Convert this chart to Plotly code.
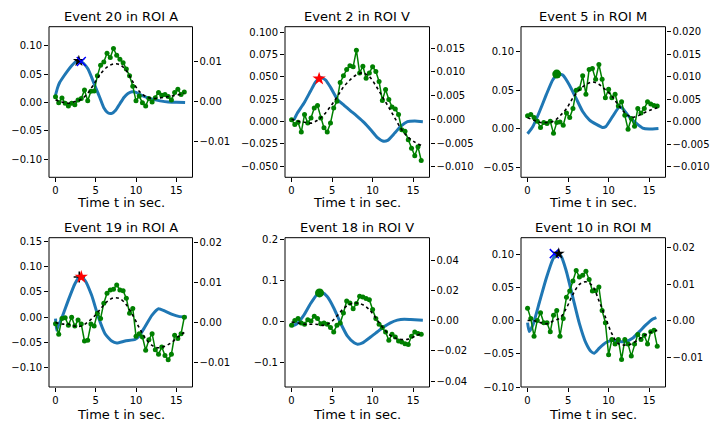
import plotly.graph_objects as go

# ---------------- data ----------------
titles = ["Event 20 in ROI A", "Event 2 in ROI V", "Event 5 in ROI M",
          "Event 19 in ROI A", "Event 18 in ROI V", "Event 10 in ROI M"]

# sample times of the green (measured) series and the dotted fit
t_green = [0.0, 0.4, 0.8, 1.2, 1.6, 2.0, 2.4, 2.8, 3.2, 3.6, 4.0, 4.4, 4.8, 5.2,
           5.6, 6.0, 6.4, 6.8, 7.2, 7.6, 8.0, 8.4, 8.8, 9.2, 9.6, 10.0, 10.4,
           10.8, 11.2, 11.6, 12.0, 12.4, 12.8, 13.2, 13.6, 14.0, 14.4, 14.8,
           15.2, 15.6, 16.0]
t_fit = [0.0, 0.8, 1.6, 2.4, 3.2, 4.0, 4.8, 5.6, 6.4, 7.2, 8.0, 8.8, 9.6, 10.4,
         11.2, 12.0, 12.8, 13.6, 14.4, 15.2, 16.0]

# blue curves (left axis)
blue_t_1 = [0, 0.25, 0.5, 1, 1.5, 2, 2.5, 3, 3.5, 4, 4.5, 5, 5.5, 6, 6.5, 7, 7.5,
            8, 8.5, 9, 9.5, 10, 10.5, 11, 12, 13, 14, 15, 16.1]
blue_y_1 = [0.013, 0.026, 0.035, 0.046, 0.056, 0.065, 0.072, 0.074, 0.069, 0.060,
            0.044, 0.026, 0.009, -0.009, -0.018, -0.019, -0.013, -0.002, 0.009,
            0.016, 0.019, 0.018, 0.014, 0.011, 0.006, 0.003, 0.001, 0.0006, 0.0]
blue_t_2 = [0.3, 0.7, 1.52, 2.35, 2.97, 3.59, 4.21, 4.83, 5.66, 6.48, 7.31, 8.14,
            8.96, 9.79, 10.6, 11.24, 11.86, 12.7, 13.5, 14.3, 15.2, 16.2]
blue_y_2 = [0.0019, 0.0093, 0.0205, 0.0343, 0.0444, 0.0493, 0.0466, 0.0381, 0.025,
            0.0183, 0.0119, 0.0056, -0.0011, -0.0093, -0.0179, -0.0216, -0.0209,
            -0.0131, -0.0049, 0.0, 0.0007, 0.0]
blue_t_3 = [0, 0.66, 1.48, 2.3, 3.1, 3.73, 4.34, 5.16, 5.98, 6.8, 7.62, 8.44, 9.26,
            9.67, 10.5, 11.3, 11.7, 12.5, 13.4, 14.2, 15.0, 16.15]
blue_y_3 = [-0.0065, 0.003, 0.0224, 0.044, 0.0634, 0.0711, 0.0698, 0.0569, 0.0397,
            0.0224, 0.0116, 0.006, 0.0017, 0.003, 0.016, 0.028, 0.0267, 0.016,
            0.0073, 0.0009, -0.0004, 0.0004]
blue_t_4 = [0, 0.13, 0.34, 0.75, 1.58, 2.41, 3.04, 3.66, 4.49, 5.32, 6.15, 6.98,
            7.61, 8.64, 9.89, 10.3, 11.1, 11.97, 12.8, 13.6, 14.5, 15.3, 16.3]
blue_y_4 = [-0.0033, -0.026, -0.017, -0.0033, 0.0329, 0.0658, 0.0803, 0.0724,
            0.0428, 0.0, -0.0329, -0.0474, -0.0513, -0.0474, -0.0441, -0.0395,
            -0.0197, 0.0033, 0.0164, 0.0118, 0.0053, 0.0013, 0.0]
blue_t_5 = [0, 0.7, 1.52, 2.35, 3.18, 3.8, 4.42, 5.24, 6.07, 6.9, 7.72, 8.14, 8.76,
            9.79, 10.6, 11.4, 12.2, 13.05, 13.9, 14.7, 16.2]
blue_y_5 = [-0.0122, -0.0057, 0.0147, 0.0432, 0.066, 0.0693, 0.0595, 0.031,
            -0.0057, -0.0367, -0.053, -0.0562, -0.053, -0.0383, -0.026, -0.0139,
            -0.0041, 0.0024, 0.0049, 0.0041, 0.0024]
blue_t_6 = [0, 0.2, 0.66, 1.48, 2.3, 3.1, 3.6, 4.14, 4.75, 5.57, 6.39, 7.21, 7.83,
            8.24, 8.85, 9.67, 10.5, 11.3, 12.1, 12.95, 13.8, 14.6, 15.4, 15.9]
blue_y_6 = [-0.003, -0.0165, -0.0065, 0.0285, 0.0635, 0.092, 0.101, 0.097, 0.076,
            0.036, -0.004, -0.034, -0.0465, -0.049, -0.0415, -0.033, -0.030,
            -0.0315, -0.0315, -0.0265, -0.0165, -0.0065, 0.002, 0.0045]

# green measured series (right axis)
green_1 = [0.0012, -0.0003, 0.0009, -0.0004, -0.0011, -0.0004, -0.0008, 0.0004,
           0.0008, 0.0029, 0.0002, 0.0026, 0.0027, 0.0065, 0.0092, 0.0100, 0.0122,
           0.0111, 0.0134, 0.0117, 0.0107, 0.0098, 0.0082, 0.0065, 0.0039, 0.0002,
           0.0014, -0.0003, -0.0011, 0.0008, -0.0001, 0.0010, 0.0023, 0.0016,
           0.0018, 0.0013, 0.0004, 0.0023, 0.0031, 0.0018, 0.0024]
green_2 = [-0.0001, -0.0011, -0.0006, -0.0027, 0.0010, -0.0008, 0.0003, 0.0024,
           0.0029, 0.0003, -0.0018, -0.0027, -0.0008, 0.0024, 0.0038, 0.0078,
           0.0092, 0.0105, 0.0113, 0.0111, 0.0146, 0.0098, 0.0112, 0.0087, 0.0098,
           0.0111, 0.0101, 0.0080, 0.0040, 0.0063, 0.0042, 0.0026, 0.0022, 0.0010,
           -0.0022, -0.0025, -0.0043, -0.0061, -0.0077, -0.0058, -0.0087]
green_3 = [0.0013, 0.0016, 0.0009, 0.0001, -0.0013, -0.0002, -0.0004, 0.0001,
           -0.0026, -0.0002, -0.0001, -0.0008, 0.0019, 0.0009, 0.0029, 0.0070,
           0.0073, 0.0102, 0.0061, 0.0116, 0.0118, 0.0094, 0.0127, 0.0094, 0.0053,
           0.0072, 0.0053, 0.0061, 0.0035, 0.0044, 0.0014, -0.0017, 0.0007,
           -0.0010, 0.0029, 0.0019, 0.0029, 0.0044, 0.0039, 0.0036, 0.0035]
green_4 = [-0.0003, -0.0029, 0.0010, 0.0012, -0.0007, 0.0013, -0.0009, 0.0006,
           -0.0004, -0.0046, -0.0044, -0.0004, -0.0009, 0.0023, 0.0010, 0.0048,
           0.0073, 0.0081, 0.0083, 0.0093, 0.0081, 0.0079, 0.0060, 0.0023, 0.0035,
           -0.0034, -0.0028, -0.0036, -0.0069, -0.0043, -0.0028, -0.0068, -0.0079,
           -0.0061, -0.0082, -0.0093, -0.0079, -0.0032, -0.0040, -0.0028, 0.0013]
green_5 = [-0.0029, 0.0004, 0.0016, -0.0013, -0.0022, 0.0009, 0.0000, 0.0031,
           0.0016, -0.0018, -0.0013, -0.0022, -0.0044, -0.0073, -0.0029, -0.0013,
           0.0053, 0.0133, 0.0120, 0.0082, 0.0116, 0.0164, 0.0160, 0.0149, 0.0142,
           0.0076, 0.0016, -0.0022, -0.0044, -0.0073, -0.0129, -0.0089, -0.0107,
           -0.0133, -0.0140, -0.0151, -0.0156, -0.0102, -0.0073, -0.0084, -0.0089]
green_6 = [0.0034, 0.0006, -0.0042, 0.0001, 0.0022, -0.0005, -0.0005, -0.0030,
           0.0015, 0.0028, -0.0042, 0.0006, 0.0064, 0.0081, 0.0108, 0.0137, 0.0119,
           0.0124, 0.0135, 0.0112, 0.0081, 0.0082, 0.0092, 0.0028, -0.0005,
           -0.0092, -0.0051, -0.0063, -0.0051, -0.0105, -0.0051, -0.0063, -0.0096,
           -0.0063, -0.0037, -0.0051, -0.0039, -0.0063, -0.0030, -0.0026, -0.0069]

# dotted smooth fit (right axis)
fit_1 = [0.0004, -0.0001, -0.0004, 0.0000, 0.0006, 0.0021, 0.0045, 0.0070, 0.0087,
         0.0095, 0.0093, 0.0078, 0.0050, 0.0026, 0.0013, 0.0008, 0.0009, 0.0011,
         0.0014, 0.0017, 0.0021]
fit_2 = [0.0, -0.0004, -0.0006, -0.0008, -0.0002, 0.0010, 0.0027, 0.0047, 0.0068,
         0.0083, 0.0094, 0.0098, 0.0090, 0.0071, 0.0048, 0.0025, 0.0001, -0.0022,
         -0.0038, -0.0048, -0.0055]
fit_3 = [0.0009, 0.0003, -0.0002, -0.0002, 0.0001, 0.0013, 0.0029, 0.0053, 0.0071,
         0.0082, 0.0088, 0.0083, 0.0071, 0.0057, 0.0037, 0.0020, 0.0010, 0.0013,
         0.0020, 0.0026, 0.0031]
fit_4 = [0.0, -0.0004, -0.0004, -0.0009, -0.0009, 0.0001, 0.0015, 0.0034, 0.0052,
         0.0061, 0.0059, 0.0044, 0.0018, -0.0013, -0.0040, -0.0057, -0.0063,
         -0.0059, -0.0050, -0.0036, -0.0025]
fit_5 = [-0.0007, -0.0013, -0.0022, -0.0022, -0.0023, -0.0029, -0.0010, 0.0033,
         0.0082, 0.0112, 0.0120, 0.0108, 0.0075, 0.0020, -0.0040, -0.0088, -0.0114,
         -0.0123, -0.0121, -0.0103, -0.0084]
fit_6 = [0.0001, 0.0000, -0.0005, -0.0008, 0.0000, 0.0008, 0.0035, 0.0072, 0.0099,
         0.0106, 0.0095, 0.0055, 0.0010, -0.0035, -0.0062, -0.0066, -0.0063,
         -0.0052, -0.0040, -0.0031, -0.0026]

# peak markers on the blue curve: (t, value, kind)
peaks_1 = [(2.9, 0.0735, "kstar"), (3.2, 0.0725, "bx")]
peaks_2 = [(3.4, 0.048, "rstar")]
peaks_3 = [(3.6, 0.071, "gdot")]
peaks_4 = [(2.95, 0.079, "kplus"), (3.2, 0.079, "rstar")]
peaks_5 = [(3.45, 0.069, "gdot")]
peaks_6 = [(3.3, 0.101, "bx"), (3.85, 0.101, "kstar")]

# ---------------- layout per panel ----------------
panels = [
    dict(bt=blue_t_1, by=blue_y_1, g=green_1, f=fit_1, pk=peaks_1,
         yl=[-0.132, 0.134], yr=[-0.0191, 0.0189], dl=0.05, dr=0.01, fl=".2f", fr=".2f"),
    dict(bt=blue_t_2, by=blue_y_2, g=green_2, f=fit_2, pk=peaks_2,
         yl=[-0.0623, 0.1063], yr=[-0.01224, 0.01956], dl=0.025, dr=0.005, fl=".3f", fr=".3f"),
    dict(bt=blue_t_3, by=blue_y_3, g=green_3, f=fit_3, pk=peaks_3,
         yl=[-0.063, 0.1325], yr=[-0.01236, 0.0211], dl=0.05, dr=0.005, fl=".2f", fr=".3f"),
    dict(bt=blue_t_4, by=blue_y_4, g=green_4, f=fit_4, pk=peaks_4,
         yl=[-0.138, 0.1565], yr=[-0.01606, 0.0211], dl=0.05, dr=0.01, fl=".2f", fr=".2f"),
    dict(bt=blue_t_5, by=blue_y_5, g=green_5, f=fit_5, pk=peaks_5,
         yl=[-0.161, 0.204], yr=[-0.044, 0.0555], dl=0.1, dr=0.02, fl=".1f", fr=".2f"),
    dict(bt=blue_t_6, by=blue_y_6, g=green_6, f=fit_6, pk=peaks_6,
         yl=[-0.100, 0.125], yr=[-0.018, 0.0226], dl=0.05, dr=0.01, fl=".2f", fr=".2f"),
]

# the page body has an 8px margin, so the figure is drawn 8px in and sized to fit
OFF = 8
W, H = 720 - OFF, 432 - OFF
col_px = [(49, 192.5), (285, 429.5), (521, 665.5)]
row_px = [(26.7, 177.3), (237.7, 387.0)]
title_px = [16.7, 227.3]
xlabel_px = [202.7, 414.3]


def fx(px):
    return (px - OFF) / W


def fy(py):
    return 1 - (py - OFF) / H


marker_style = {
    "kstar": dict(symbol="star", size=9, color="black"),
    "rstar": dict(symbol="star", size=10, color="red"),
    "bx": dict(symbol="x-thin", size=9, color="blue", line=dict(color="blue", width=1.5)),
    "kplus": dict(symbol="cross-thin", size=8, color="black", line=dict(color="black", width=1.5)),
    "gdot": dict(symbol="circle", size=9, color="green"),
}

FONT = "DejaVu Sans"
BLUE = "#1f77b4"

fig = go.Figure()
layout = dict(width=W, height=H, autosize=False, showlegend=False, template="none",
              margin=dict(l=0, r=0, t=0, b=0, pad=0),
              paper_bgcolor="white", plot_bgcolor="white",
              font=dict(family=FONT, size=10, color="black"))
annotations = []
shapes = []

axis_common = dict(showgrid=False, zeroline=False, showline=False,
                   ticks="outside", ticklen=4, tickwidth=1,
                   tickcolor="black", automargin=False,
                   tickfont=dict(family=FONT, size=10, color="black"))

for k, p in enumerate(panels):
    n = k + 1
    r, c = divmod(k, 3)
    x0, x1 = col_px[c]
    ytop, ybot = row_px[r]
    xa = "x" if n == 1 else f"x{n}"
    yl_id = 2 * n - 1
    yr_id = 2 * n
    yl_ref = "y" if yl_id == 1 else f"y{yl_id}"
    yr_ref = f"y{yr_id}"

    layout["xaxis" if n == 1 else f"xaxis{n}"] = dict(
        axis_common, domain=[fx(x0), fx(x1)], range=[-0.81, 17.02],
        tick0=0, dtick=5, anchor=yl_ref)
    layout["yaxis" if yl_id == 1 else f"yaxis{yl_id}"] = dict(
        axis_common, domain=[fy(ybot), fy(ytop)], range=p["yl"],
        tick0=0, dtick=p["dl"], tickformat=p["fl"], anchor=xa, side="left")
    layout[f"yaxis{yr_id}"] = dict(
        axis_common, range=p["yr"], tick0=0, dtick=p["dr"], tickformat=p["fr"],
        overlaying=yl_ref, anchor=xa, side="right")

    fig.add_trace(go.Scatter(x=p["bt"], y=p["by"], mode="lines",
                             line=dict(color=BLUE, width=3, shape="spline", smoothing=0.5),
                             xaxis=xa, yaxis=yl_ref))
    for (pt, pv, kind) in p["pk"]:
        fig.add_trace(go.Scatter(x=[pt], y=[pv], mode="markers",
                                 marker=marker_style[kind], xaxis=xa, yaxis=yl_ref))
    fig.add_trace(go.Scatter(x=t_green, y=p["g"], mode="lines+markers",
                             line=dict(color="green", width=1.5),
                             marker=dict(color="green", size=5),
                             xaxis=xa, yaxis=yr_ref))
    fig.add_trace(go.Scatter(x=t_fit, y=p["f"], mode="lines",
                             line=dict(color="black", width=1.6, dash="dot",
                                       shape="spline", smoothing=1.0),
                             xaxis=xa, yaxis=yr_ref))

    # axes frame
    shapes.append(dict(type="rect", xref="paper", yref="paper",
                       x0=fx(x0), x1=fx(x1), y0=fy(ybot), y1=fy(ytop),
                       line=dict(color="black", width=1), layer="above"))

    xc = fx((x0 + x1) / 2)
    annotations.append(dict(text=titles[k], xref="paper", yref="paper", x=xc,
                            y=fy(title_px[r]), xanchor="center", yanchor="middle",
                            showarrow=False, font=dict(family=FONT, size=13, color="black")))
    annotations.append(dict(text="Time t in sec.", xref="paper", yref="paper", x=xc,
                            y=fy(xlabel_px[r]), xanchor="center", yanchor="middle",
                            showarrow=False, font=dict(family=FONT, size=13, color="black")))

layout["annotations"] = annotations
layout["shapes"] = shapes
fig.update_layout(**layout)
fig.write_html("out.html")
